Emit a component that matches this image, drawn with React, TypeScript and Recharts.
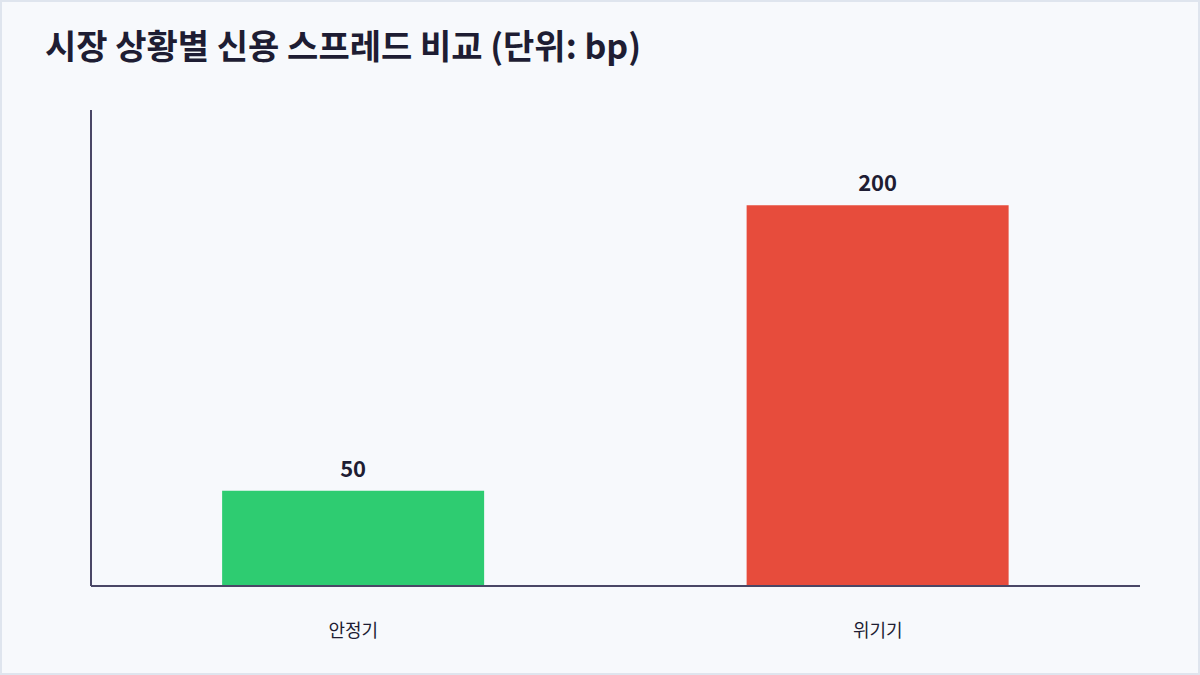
import { Bar, BarChart, Cell, LabelList, XAxis, YAxis } from "recharts";

const categories = ["안정기", "위기기"];
const spreads = [50, 200];
const barColors = ["#2ECC71", "#E74C3C"];
const yDomain = [0, 250];

const data = categories.map((name, i) => ({ name, value: spreads[i] }));

const FONT = '"Noto Sans CJK KR", "Noto Sans", sans-serif';

export default function App() {
  return (
    <div
      style={{
        position: "fixed",
        left: 0,
        top: 0,
        width: 1200,
        height: 675,
        boxSizing: "border-box",
        border: "2px solid #DFE5EE",
        background: "#F7F9FC",
        fontFamily: FONT,
      }}
    >
      <div
        style={{
          position: "absolute",
          left: 43,
          top: 18,
          fontSize: 34,
          fontWeight: 700,
          color: "#1E1D33",
          whiteSpace: "nowrap",
        }}
      >
        시장 상황별 신용 스프레드 비교 (단위: bp)
      </div>
      <div style={{ position: "absolute", left: -2, top: -2 }}>
        <BarChart
          width={1200}
          height={675}
          data={data}
          margin={{ top: 110, right: 60, bottom: 49, left: 90 }}
          barCategoryGap="25%"
        >
          <XAxis
            dataKey="name"
            height={40}
            axisLine={{ stroke: "#4A4766", strokeWidth: 2 }}
            tickLine={false}
            tickMargin={32}
            tick={{ fill: "#1E1D33", fontSize: 18, fontFamily: FONT }}
          />
          <YAxis
            width={1}
            domain={yDomain}
            tick={false}
            tickLine={false}
            axisLine={{ stroke: "#4A4766", strokeWidth: 2 }}
          />
          <Bar dataKey="value" isAnimationActive={false}>
            {data.map((d, i) => (
              <Cell key={d.name} fill={barColors[i]} />
            ))}
            <LabelList
              dataKey="value"
              position="top"
              offset={14}
              fill="#1E1D33"
              fontSize={22}
              fontWeight={700}
              fontFamily={FONT}
            />
          </Bar>
        </BarChart>
      </div>
    </div>
  );
}
